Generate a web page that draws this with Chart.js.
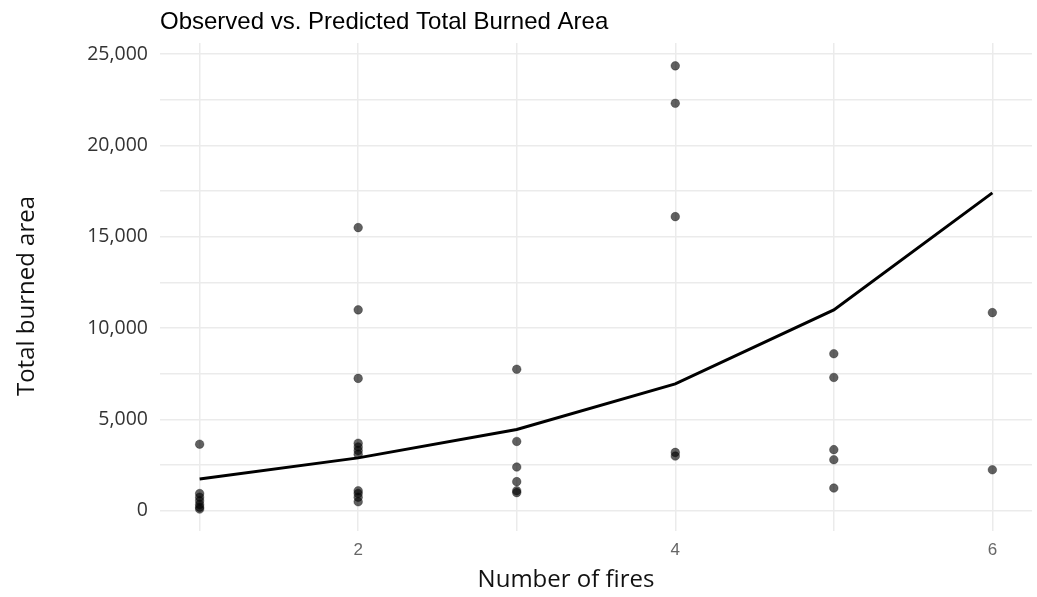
<!DOCTYPE html>
<html>
<head>
<meta charset="utf-8">
<title>Observed vs. Predicted Total Burned Area</title>
<script src="https://cdn.jsdelivr.net/npm/chart.js@4.4.1/dist/chart.umd.min.js"></script>
<style>
  html, body { margin: 0; padding: 0; background: #ffffff; }
  #wrap { width: 1037px; height: 597px; }
</style>
</head>
<body>
<div id="wrap"><canvas id="chart" width="1037" height="597"></canvas></div>
<script>
// Number of fires per observation group
const fireCounts = [1, 2, 3, 4, 5, 6];

// Observed total burned area, one list per fire count
const observed1 = [3650, 950, 750, 550, 350, 200, 100];
const observed2 = [15500, 11000, 7250, 3700, 3500, 3300, 3100, 1100, 950, 750, 500];
const observed3 = [7750, 3800, 2400, 1600, 1100, 1000];
const observed4 = [24350, 22300, 16100, 3200, 3000];
const observed5 = [8600, 7300, 3350, 2800, 1250];
const observed6 = [10850, 2250];

// Model prediction at each fire count
const predicted = [1750, 2900, 4450, 6950, 11000, 17400];

// Axis ticks
const xTicks = [1, 2, 3, 4, 5, 6];
const xLabelled = [2, 4, 6];
const yTicks = [0, 2500, 5000, 7500, 10000, 12500, 15000, 17500, 20000, 22500, 25000];
const yLabelled = [0, 5000, 10000, 15000, 20000, 25000];

const observedGroups = [observed1, observed2, observed3, observed4, observed5, observed6];
const observedPoints = [];
observedGroups.forEach((vals, i) => {
  vals.forEach(v => observedPoints.push({ x: fireCounts[i], y: v }));
});
const predictedPoints = fireCounts.map((n, i) => ({ x: n, y: predicted[i] }));

const GRID = '#ebebeb';

// Title and axis titles, placed around the plotting panel
const textLayer = {
  id: 'textLayer',
  afterDraw(chart) {
    const ctx = chart.ctx;
    const area = chart.chartArea;
    ctx.save();
    ctx.fillStyle = '#000000';
    ctx.font = '24px "Liberation Sans", Arial, sans-serif';
    ctx.textAlign = 'left';
    ctx.textBaseline = 'middle';
    ctx.fillText('Observed vs. Predicted Total Burned Area', area.left, 22);

    ctx.fillStyle = '#111111';
    ctx.font = '24px "Open Sans", sans-serif';
    ctx.textAlign = 'center';
    ctx.fillText('Number of fires', 566, 580);

    ctx.translate(27, 296);
    ctx.rotate(-Math.PI / 2);
    ctx.fillText('Total burned area', 0, 0);
    ctx.restore();
  }
};

new Chart(document.getElementById('chart'), {
  type: 'scatter',
  data: {
    datasets: [
      {
        label: 'Predicted',
        type: 'line',
        data: predictedPoints,
        borderColor: '#000000',
        borderWidth: 3,
        pointRadius: 0,
        tension: 0,
        fill: false,
        order: 0
      },
      {
        label: 'Observed',
        data: observedPoints,
        backgroundColor: 'rgba(0,0,0,0.62)',
        borderColor: 'rgba(0,0,0,0.62)',
        borderWidth: 0.5,
        pointRadius: 4.3,
        order: 1
      }
    ]
  },
  options: {
    responsive: false,
    animation: false,
    devicePixelRatio: 1,
    layout: { padding: { top: 43, right: 5, left: 0, bottom: 0 } },
    plugins: {
      legend: { display: false },
      title: { display: false },
      tooltip: { enabled: false }
    },
    scales: {
      x: {
        type: 'linear',
        min: 0.75,
        max: 6.25,
        afterBuildTicks(scale) { scale.ticks = xTicks.map(v => ({ value: v })); },
        afterFit(scale) { scale.height = 66; },
        border: { display: false },
        grid: { color: GRID, lineWidth: 1.5, drawTicks: false },
        ticks: {
          padding: 9,
          color: '#666666',
          font: { family: '"Liberation Sans Narrow", "Liberation Sans", sans-serif', size: 17 },
          callback: v => (xLabelled.includes(v) ? String(v) : '')
        }
      },
      y: {
        type: 'linear',
        min: -1100,
        max: 25600,
        afterBuildTicks(scale) { scale.ticks = yTicks.map(v => ({ value: v })); },
        afterFit(scale) { scale.width = 160; },
        border: { display: false },
        grid: { color: GRID, lineWidth: 1.5, drawTicks: false },
        ticks: {
          padding: 12,
          color: '#333333',
          font: { family: '"Open Sans", sans-serif', size: 19.5 },
          callback: v => (yLabelled.includes(v) ? v.toLocaleString('en-US') : '')
        }
      }
    }
  },
  plugins: [textLayer]
});
</script>
</body>
</html>
